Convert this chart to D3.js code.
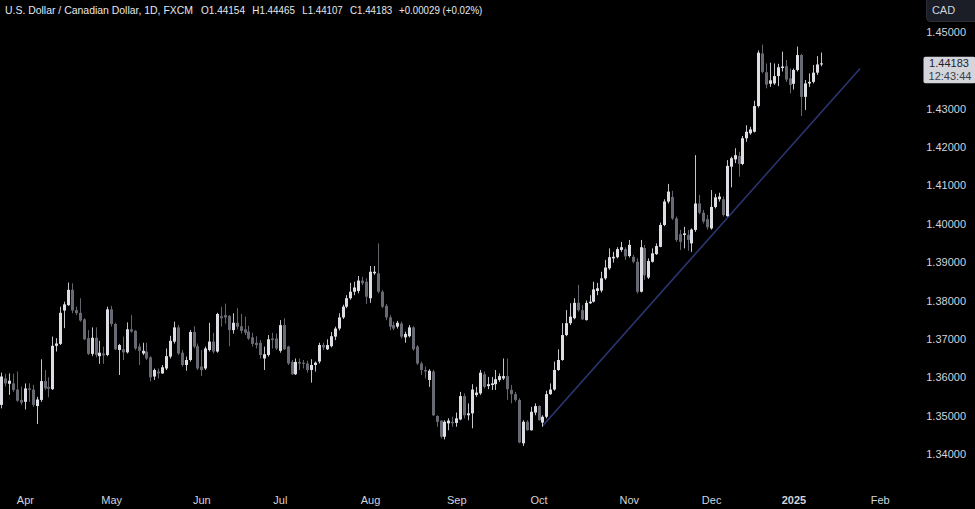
<!DOCTYPE html>
<meta charset="utf-8">
<script src="https://d3js.org/d3.v7.min.js"></script>
<style>
  body { margin: 0; background: #000; }
  svg { display: block; font-family: "Liberation Sans", Arial, sans-serif; }
</style>
<div id="chart"></div>
<script>

// daily USD/CAD candles, FXCM, 22 Mar 2024 -> 13 Jan 2025
const opens = [
  1.3528,1.3597,1.3583,1.3584,1.3568,1.3541,1.3536,1.3571,1.3568,1.3525,
  1.3541,1.3590,1.3575,1.3569,1.3682,1.3687,1.3774,1.3788,1.3828,1.3775,
  1.3768,1.3751,1.3702,1.3661,1.3703,1.3655,1.3662,1.3658,1.3777,1.3739,
  1.3671,1.3673,1.3665,1.3725,1.3721,1.3680,1.3662,1.3667,1.3652,1.3602,
  1.3615,1.3610,1.3623,1.3654,1.3693,1.3730,1.3664,1.3632,1.3645,1.3718,
  1.3681,1.3628,1.3623,1.3671,1.3693,1.3667,1.3759,1.3762,1.3760,1.3723,
  1.3742,1.3733,1.3725,1.3719,1.3704,1.3690,1.3690,1.3649,1.3658,1.3701,
  1.3701,1.3669,1.3736,1.3680,1.3640,1.3608,1.3640,1.3638,1.3636,1.3619,
  1.3632,1.3641,1.3684,1.3673,1.3681,1.3706,1.3727,1.3756,1.3784,1.3806,
  1.3823,1.3825,1.3852,1.3849,1.3806,1.3871,1.3871,1.3823,1.3786,1.3756,
  1.3736,1.3732,1.3740,1.3704,1.3707,1.3730,1.3680,1.3636,1.3619,1.3593,
  1.3615,1.3499,1.3487,1.3445,1.3480,1.3484,1.3481,1.3490,1.3551,1.3501,
  1.3506,1.3554,1.3558,1.3608,1.3577,1.3580,1.3582,1.3593,1.3597,1.3603,
  1.3567,1.3556,1.3541,1.3428,1.3484,1.3462,1.3508,1.3525,1.3482,1.3497,
  1.3556,1.3568,1.3619,1.3645,1.3710,1.3741,1.3754,1.3794,1.3775,1.3749,
  1.3793,1.3797,1.3825,1.3826,1.3858,1.3884,1.3910,1.3913,1.3932,1.3934,
  1.3916,1.3914,1.3901,1.3823,1.3937,1.3860,1.3901,1.3921,1.3940,1.3997,
  1.4058,1.4070,1.4014,1.3973,1.3971,1.3971,1.3949,1.3984,1.4053,1.4029,
  1.4012,1.3988,1.4044,1.4064,1.4064,1.4020,1.4149,1.4168,1.4177,1.4156,
  1.4223,1.4236,1.4240,1.4307,1.4444,1.4395,1.4365,1.4366,1.4385,1.4406,
  1.4411,1.4379,1.4365,1.4401,1.4440,1.4331,1.4366,1.4370,1.4394,1.44154
];
const highs = [
  1.3612,1.3609,1.3610,1.3609,1.3615,1.3576,1.3584,1.3584,1.3580,1.3549,
  1.3647,1.3619,1.3600,1.3706,1.3702,1.3784,1.3797,1.3847,1.3845,1.3784,
  1.3806,1.3754,1.3723,1.3730,1.3730,1.3695,1.3680,1.3784,1.3786,1.3742,
  1.3687,1.3706,1.3743,1.3762,1.3723,1.3688,1.3690,1.3690,1.3655,1.3623,
  1.3623,1.3632,1.3675,1.3708,1.3745,1.3736,1.3671,1.3654,1.3723,1.3733,
  1.3688,1.3671,1.3680,1.3742,1.3716,1.3768,1.3784,1.3792,1.3762,1.3767,
  1.3780,1.3765,1.3758,1.3734,1.3716,1.3707,1.3697,1.3680,1.3710,1.3716,
  1.3714,1.3749,1.3754,1.3682,1.3645,1.3649,1.3649,1.3645,1.3643,1.3647,
  1.3641,1.3690,1.3690,1.3699,1.3718,1.3732,1.3767,1.3789,1.3814,1.3846,
  1.3849,1.3864,1.3862,1.3858,1.3890,1.3890,1.3949,1.3827,1.3791,1.3762,
  1.3745,1.3747,1.3745,1.3719,1.3736,1.3733,1.3684,1.3641,1.3628,1.3621,
  1.3619,1.3501,1.3488,1.3488,1.3493,1.3497,1.3508,1.3562,1.3558,1.3532,
  1.3582,1.3575,1.3619,1.3615,1.3601,1.3601,1.3619,1.3610,1.3649,1.3649,
  1.3580,1.3562,1.3545,1.3488,1.3488,1.3523,1.3532,1.3527,1.3501,1.3565,
  1.3584,1.3641,1.3673,1.3741,1.3775,1.3793,1.3806,1.3841,1.3788,1.3800,
  1.3814,1.3849,1.3846,1.3875,1.3906,1.3936,1.3927,1.3939,1.3953,1.3939,
  1.3958,1.3919,1.3910,1.3958,1.3945,1.3910,1.3936,1.3949,1.4003,1.4064,
  1.4104,1.4086,1.4019,1.3984,1.3992,1.3984,1.3988,1.4179,1.4075,1.4036,
  1.4023,1.4088,1.4078,1.4081,1.4071,1.4166,1.4175,1.4197,1.4188,1.4229,
  1.4257,1.4253,1.4321,1.4452,1.4467,1.4418,1.4420,1.4418,1.4417,1.4449,
  1.4427,1.4405,1.4405,1.4462,1.4443,1.4375,1.4392,1.4414,1.4437,1.44465
];
const lows = [
  1.3519,1.3576,1.3554,1.3562,1.3536,1.3528,1.3516,1.3536,1.3523,1.3478,
  1.3536,1.3567,1.3548,1.3567,1.3667,1.3684,1.3728,1.3786,1.3767,1.3762,
  1.3745,1.3697,1.3658,1.3655,1.3652,1.3635,1.3635,1.3655,1.3732,1.3671,
  1.3606,1.3645,1.3662,1.3716,1.3671,1.3632,1.3658,1.3645,1.3589,1.3593,
  1.3597,1.3609,1.3619,1.3649,1.3688,1.3658,1.3628,1.3617,1.3641,1.3675,
  1.3619,1.3603,1.3619,1.3667,1.3662,1.3664,1.3732,1.3740,1.3681,1.3714,
  1.3725,1.3714,1.3710,1.3697,1.3680,1.3675,1.3649,1.3619,1.3654,1.3675,
  1.3671,1.3664,1.3671,1.3632,1.3606,1.3606,1.3619,1.3623,1.3612,1.3586,
  1.3615,1.3636,1.3671,1.3671,1.3678,1.3697,1.3722,1.3752,1.3780,1.3802,
  1.3814,1.3819,1.3840,1.3791,1.3794,1.3867,1.3819,1.3780,1.3749,1.3723,
  1.3723,1.3727,1.3701,1.3690,1.3704,1.3669,1.3632,1.3606,1.3597,1.3575,
  1.3499,1.3471,1.3441,1.3438,1.3462,1.3471,1.3471,1.3488,1.3493,1.3488,
  1.3467,1.3549,1.3554,1.3571,1.3569,1.3567,1.3567,1.3588,1.3593,1.3541,
  1.3532,1.3536,1.3428,1.3421,1.3461,1.3461,1.3501,1.3487,1.3471,1.3493,
  1.3554,1.3565,1.3617,1.3643,1.3707,1.3736,1.3751,1.3771,1.3749,1.3748,
  1.3791,1.3795,1.3814,1.3821,1.3854,1.3880,1.3899,1.3910,1.3927,1.3906,
  1.3912,1.3897,1.3818,1.3821,1.3854,1.3856,1.3899,1.3919,1.3939,1.3994,
  1.4053,1.4010,1.3953,1.3932,1.3936,1.3930,1.3927,1.3979,1.4025,1.4001,
  1.3985,1.3985,1.4040,1.4058,1.4019,1.4019,1.4095,1.4158,1.4123,1.4153,
  1.4214,1.4232,1.4238,1.4303,1.4392,1.4353,1.4357,1.4362,1.4359,1.4397,
  1.4370,1.4340,1.4350,1.4397,1.4281,1.4297,1.4357,1.4366,1.4388,1.44107
];
const closes = [
  1.3602,1.3584,1.3591,1.3567,1.3539,1.3534,1.3571,1.3567,1.3528,1.3542,
  1.3590,1.3571,1.3570,1.3682,1.3688,1.3768,1.3790,1.3828,1.3774,1.3767,
  1.3748,1.3699,1.3661,1.3703,1.3658,1.3664,1.3657,1.3777,1.3739,1.3673,
  1.3684,1.3665,1.3725,1.3719,1.3675,1.3669,1.3669,1.3649,1.3600,1.3619,
  1.3610,1.3626,1.3655,1.3695,1.3730,1.3662,1.3632,1.3645,1.3718,1.3680,
  1.3623,1.3619,1.3675,1.3693,1.3667,1.3765,1.3754,1.3756,1.3723,1.3742,
  1.3732,1.3721,1.3716,1.3701,1.3687,1.3684,1.3658,1.3660,1.3699,1.3697,
  1.3675,1.3736,1.3673,1.3636,1.3608,1.3640,1.3636,1.3635,1.3619,1.3632,
  1.3638,1.3684,1.3678,1.3684,1.3707,1.3727,1.3756,1.3784,1.3806,1.3823,
  1.3834,1.3852,1.3845,1.3810,1.3875,1.3875,1.3823,1.3784,1.3756,1.3732,
  1.3727,1.3742,1.3706,1.3713,1.3730,1.3673,1.3636,1.3619,1.3615,1.3617,
  1.3501,1.3484,1.3445,1.3484,1.3487,1.3480,1.3493,1.3551,1.3501,1.3506,
  1.3568,1.3560,1.3612,1.3575,1.3582,1.3584,1.3595,1.3603,1.3603,1.3569,
  1.3556,1.3541,1.3430,1.3484,1.3462,1.3510,1.3525,1.3488,1.3497,1.3556,
  1.3568,1.3619,1.3645,1.3710,1.3741,1.3758,1.3794,1.3775,1.3751,1.3794,
  1.3797,1.3829,1.3832,1.3858,1.3886,1.3913,1.3914,1.3934,1.3939,1.3915,
  1.3945,1.3901,1.3823,1.3939,1.3866,1.3903,1.3923,1.3942,1.3997,1.4058,
  1.4084,1.4014,1.3958,1.3953,1.3975,1.3958,1.3985,1.4053,1.4029,1.4006,
  1.3991,1.4044,1.4069,1.4071,1.4023,1.4151,1.4171,1.4179,1.4156,1.4223,
  1.4240,1.4246,1.4307,1.4446,1.4396,1.4363,1.4374,1.4385,1.4408,1.4410,
  1.4376,1.4362,1.4401,1.4440,1.4331,1.4366,1.4370,1.4394,1.44154,1.44183
];

const firstDay = "2024-03-22";
const holidays = ["2024-12-25", "2025-01-01"];

// time axis labels, at the first trading day of each month
const monthLabels = ["Apr", "May", "Jun", "Jul", "Aug", "Sep", "Oct", "Nov", "Dec", "2025", "Feb"];
const monthStarts = ["2024-04-01", "2024-05-01", "2024-06-03", "2024-07-01", "2024-08-01", "2024-09-02",
                     "2024-10-01", "2024-11-01", "2024-12-02", "2025-01-02", "2025-02-03"];

const priceTicks = [1.34, 1.35, 1.36, 1.37, 1.38, 1.39, 1.40, 1.41, 1.42, 1.43, 1.45];

// hand drawn support line
const trendDates = ["2024-10-02", "2025-01-27"];
const trendPrices = [1.3473, 1.4405];

const symbolName = "U.S. Dollar / Canadian Dollar, 1D, FXCM";
const currency = "CAD";
const countdown = "12:43:44";

const width = 975, height = 509;

const svg = d3.select("#chart")
  .append("svg")
    .attr("width", width)
    .attr("height", height)
    .style("background", "#000");

// trading days (no weekends, no holidays) -> bar index
const fmt = d3.utcFormat("%Y-%m-%d");
const days = d3.utcDays(new Date(firstDay), new Date("2025-03-01"))
  .filter(d => d.getUTCDay() !== 0 && d.getUTCDay() !== 6 && !holidays.includes(fmt(d)));
const dayIndex = new Map(days.map((d, i) => [fmt(d), i]));

const x = d3.scaleLinear().domain([0, 224]).range([1.4, 879.7]);
const y = d3.scaleLinear().domain([1.34, 1.45]).range([454, 32]);

const candles = opens.map((o, i) => ({ i, o, h: highs[i], l: lows[i], c: closes[i] }));

const upBody = "#dcdee3", downBody = "#676a72";
const upWick = "#c3c5cb", downWick = "#64666e";

// trend line (under candles)
svg.append("line")
  .attr("x1", x(dayIndex.get(trendDates[0])))
  .attr("y1", y(trendPrices[0]))
  .attr("x2", x(dayIndex.get(trendDates[1])))
  .attr("y2", y(trendPrices[1]))
  .style("stroke", "#2c3674")
  .style("stroke-width", 1.6);

const bars = svg.append("g").selectAll("g")
  .data(candles)
  .enter()
  .append("g");

bars.append("line")
  .attr("x1", d => Math.round(x(d.i)) + 0.5)
  .attr("x2", d => Math.round(x(d.i)) + 0.5)
  .attr("y1", d => y(d.h))
  .attr("y2", d => y(d.l))
  .style("stroke", d => d.c >= d.o ? upWick : downWick)
  .style("stroke-width", 1);

bars.append("rect")
  .attr("x", d => Math.round(x(d.i)) - 1)
  .attr("width", 3)
  .attr("y", d => y(Math.max(d.o, d.c)))
  .attr("height", d => Math.max(1, Math.abs(y(d.o) - y(d.c))))
  .style("fill", d => d.c >= d.o ? upBody : downBody);

// time axis
const xAxis = svg.append("g")
  .attr("transform", `translate(0, ${489})`)
  .call(d3.axisBottom(x)
    .tickValues(monthStarts.map(s => dayIndex.get(s)))
    .tickFormat((d, k) => monthLabels[k])
    .tickSize(0)
    .tickPadding(7));
xAxis.select(".domain").remove();
xAxis.selectAll("text")
  .style("fill", "#d1d4dc")
  .style("font-size", "11px")
  .style("font-family", "'Liberation Sans', Arial, sans-serif")
  .style("font-weight", (d, k) => monthLabels[k] === "2025" ? "bold" : "normal");

// price axis
const last = candles[candles.length - 1];
const prev = candles[candles.length - 2];
const yAxis = svg.append("g")
  .attr("transform", `translate(${966}, 0)`)
  .call(d3.axisRight(y)
    .tickValues(priceTicks)
    .tickFormat(d3.format(".5f"))
    .tickSize(0)
    .tickPadding(0));
yAxis.select(".domain").remove();
yAxis.selectAll("text")
  .attr("text-anchor", "end")
  .attr("x", 0)
  .style("fill", "#d1d4dc")
  .style("font-size", "11px")
  .style("font-family", "'Liberation Sans', Arial, sans-serif");

// last price tag
const tagY = y(last.c);
svg.append("rect")
  .attr("x", 923.5).attr("y", tagY - 6.5)
  .attr("width", 52).attr("height", 26.5)
  .attr("rx", 2)
  .style("fill", "#d3d5db");
svg.append("text")
  .attr("x", 949).attr("y", tagY + 4)
  .attr("text-anchor", "middle")
  .style("fill", "#1e222d")
  .style("font-size", "11px")
  .text(d3.format(".5f")(last.c));
svg.append("text")
  .attr("x", 950).attr("y", tagY + 16.5)
  .attr("text-anchor", "middle")
  .style("fill", "#3b3f4a")
  .style("font-size", "11px")
  .text(countdown);

// currency button
svg.append("rect")
  .attr("x", 926.5).attr("y", -5)
  .attr("width", 60).attr("height", 26.5)
  .attr("rx", 4)
  .style("fill", "#1b1e27")
  .style("stroke", "#2a2e39");
svg.append("text")
  .attr("x", 943.5).attr("y", 14)
  .attr("text-anchor", "middle")
  .style("fill", "#d1d4dc")
  .style("font-size", "11px")
  .text(currency);

// legend line
const f5 = d3.format(".5f");
const chg = last.c - prev.c;
const headerParts = [
  { t: symbolName, x: 5, w: 188 },
  { t: "O" + f5(last.o), x: 201, w: 44 },
  { t: "H" + f5(last.h), x: 252.3, w: 42.7 },
  { t: "L" + f5(last.l), x: 302.3, w: 40.4 },
  { t: "C" + f5(last.c), x: 350, w: 42.3 },
  { t: d3.format("+.5f")(chg) + " (" + d3.format("+.2f")(chg / prev.c * 100) + "%)", x: 399, w: 83.3 }
];
svg.append("g").selectAll("text")
  .data(headerParts)
  .enter()
  .append("text")
    .attr("x", d => d.x)
    .attr("y", 14)
    .attr("textLength", d => d.w)
    .attr("lengthAdjust", "spacingAndGlyphs")
    .style("fill", "#e6e8ee")
    .style("font-size", "10.5px")
    .text(d => d.t);

</script>
